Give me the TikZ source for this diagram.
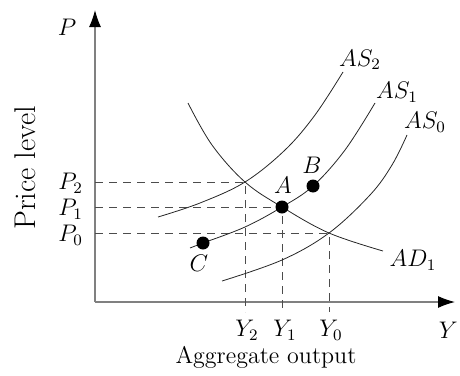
\documentclass[tikz,border=0pt]{standalone}
\usepackage{amsmath}
\usetikzlibrary{arrows.meta}
\begin{document}
\begin{tikzpicture}[x=0.5pt, y=-0.5pt, every node/.style={font=\large},
		axis/.style={draw=black!50, line width=0.6pt, -{Latex[length=8.5pt, width=6pt, black]}},
		curve/.style={draw=black!85, line width=0.4pt},
		guide/.style={draw=black!70, line width=0.4pt, dash pattern=on 4pt off 3pt},
		dot/.style={circle, fill=black, inner sep=0pt, minimum size=6.5pt}]
		\useasboundingbox (0, 0) rectangle (460, 375);
		% axes
		\coordinate (o) at (95, 302);
		\coordinate (ytop) at (95, 10);
		\coordinate (xend) at (455, 302);
		\draw[axis] (o) -- (ytop);
		\draw[axis] (o) -- (xend);
		\node (plab) at (67, 27) {$P$};
		\node[anchor=east, inner xsep=1pt] (ylab) at (460, 330) {$Y$};
		\node[rotate=90, font=\fontsize{15}{18}\selectfont] (price) at (25, 168) {Price level};
		\node (agg) at (266, 357) {Aggregate output};
		% equilibria
		\coordinate (e2) at (245, 182);
		\coordinate (e1) at (282, 207);
		\coordinate (e0) at (329, 233);
		\coordinate (p2) at (95, 182);
		\coordinate (p1) at (95, 207);
		\coordinate (p0) at (95, 233);
		\coordinate (y2) at (245, 312);
		\coordinate (y1) at (282, 312);
		\coordinate (y0) at (329, 312);
		\draw[guide] (p2) -- (e2) -- (y2);
		\draw[guide] (p1) -- (e1) -- (y1);
		\draw[guide] (p0) -- (e0) -- (y0);
		\node[anchor=east] (lp2) at (90, 183) {$P_2$};
		\node[anchor=east] (lp1) at (90, 209) {$P_1$};
		\node[anchor=east] (lp0) at (90, 235) {$P_0$};
		\node (ly2) at (247, 330) {$Y_2$};
		\node (ly1) at (285, 330) {$Y_1$};
		\node (ly0) at (331, 330) {$Y_0$};
		% curves
		\draw[curve] plot[smooth, tension=0.6] coordinates {(158, 217) (200, 203) (245, 182) (285, 150) (315, 115) (343, 72)};
		\draw[curve] plot[smooth, tension=0.6] coordinates {(190, 248) (203, 243) (245, 227) (282, 207) (313, 186) (345, 150) (375, 103)};
		\draw[curve] plot[smooth, tension=0.6] coordinates {(222, 281) (282, 260) (329, 233) (370, 195) (392, 165) (407, 135)};
		\draw[curve] plot[smooth, tension=0.6] coordinates {(188, 103) (212, 145) (245, 182) (282, 207) (329, 233) (383, 251)};
		\node (as2) at (360, 60) {$AS_2$};
		\node (as1) at (397, 92) {$AS_1$};
		\node (as0) at (425, 122) {$AS_0$};
		\node (ad1) at (413, 260) {$AD_1$};
		% points
		\node[dot] (A) at (282, 207) {};
		\node[dot] (B) at (313, 186) {};
		\node[dot] (C) at (203, 243) {};
		\node (la) at (283, 185) {$A$};
		\node (lb) at (312, 165) {$B$};
		\node (lc) at (199, 263) {$C$};
	\end{tikzpicture}
\end{document}
